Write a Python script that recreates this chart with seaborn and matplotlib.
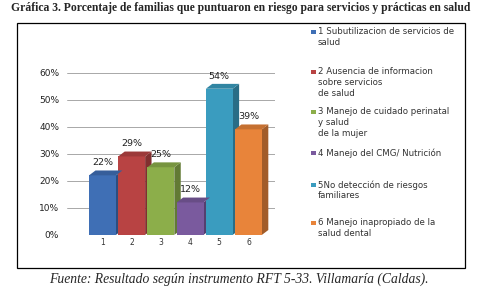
import matplotlib
matplotlib.use("Agg")
import matplotlib.pyplot as plt
import seaborn as sns
import pandas as pd
import numpy as np
from matplotlib.patches import Polygon, Rectangle
import matplotlib.colors as mcolors

categories = ["1", "2", "3", "4", "5", "6"]
values = [0.22, 0.29, 0.25, 0.12, 0.54, 0.39]
value_labels = ["22%", "29%", "25%", "12%", "54%", "39%"]
legend_labels = [
    "1 Subutilizacion de servicios de\nsalud",
    "2 Ausencia de informacion\nsobre servicios\nde salud",
    "3 Manejo de cuidado perinatal\ny salud\nde la mujer",
    "4 Manejo del CMG/ Nutrición",
    "5No detección de riesgos\nfamiliares",
    "6 Manejo inapropiado de la\nsalud dental",
]
colors = ["#3f6fb5", "#b84343", "#8cae4a", "#7a5a9e", "#3a9cbf", "#e8843a"]
yticks = [0, 0.1, 0.2, 0.3, 0.4, 0.5, 0.6]
ytick_labels = ["0%", "10%", "20%", "30%", "40%", "50%", "60%"]

title = "Gráfica 3. Porcentaje de familias que puntuaron en riesgo para servicios y prácticas en salud"
caption = "Fuente: Resultado según instrumento RFT 5-33. Villamaría (Caldas)."

sns.set_style("white")
plt.rcParams["font.family"] = ["DejaVu Sans"]

df = pd.DataFrame({"cat": categories, "val": values})

W, H = 482, 290
fig = plt.figure(figsize=(W / 100, H / 100), dpi=100)
fig.patch.set_facecolor("white")

# outer frame
fig.add_artist(Rectangle((17 / W, 1 - 268 / H), (465 - 17) / W, (268 - 23) / H,
                         transform=fig.transFigure, fill=False,
                         edgecolor="black", linewidth=0.9))

ax = fig.add_axes([0.14, 0.19, 0.43, 0.56])
sns.barplot(data=df, x="cat", y="val", hue="cat", palette=colors, legend=False,
            width=0.92, saturation=1, linewidth=0, edgecolor="none", ax=ax, zorder=3)
ax.set_ylim(0, 0.6)
ax.set_xlim(-1.2, 5.9)
ax.set_yticks(yticks)
ax.set_yticklabels(ytick_labels, fontsize=6.5, color="#222222")
ax.tick_params(axis="x", labelsize=5.5, length=0, pad=2, colors="#333333")
ax.tick_params(axis="y", length=0, pad=6)
ax.set_xlabel("")
ax.set_ylabel("")
for s in ax.spines.values():
    s.set_visible(False)
ax.yaxis.grid(True, color="#9a9a9a", linewidth=0.6, zorder=0)
ax.set_axisbelow(True)

bars = list(ax.patches)
# pseudo-3D depth faces derived from bar geometry
dx, dy = 0.22, 0.018
for p, c in zip(bars, colors):
    x0, w, h = p.get_x(), p.get_width(), p.get_height()
    x1 = x0 + w
    rgb = np.array(mcolors.to_rgb(c))
    side = Polygon([(x1, 0), (x1 + dx, dy), (x1 + dx, h + dy), (x1, h)],
                   closed=True, facecolor=rgb * 0.7, edgecolor="none", zorder=2.9)
    top = Polygon([(x0, h), (x0 + dx, h + dy), (x1 + dx, h + dy), (x1, h)],
                  closed=True, facecolor=rgb * 0.85, edgecolor="none", zorder=3.1)
    ax.add_patch(side)
    ax.add_patch(top)

for p, lab in zip(bars, value_labels):
    ax.text(p.get_x() + p.get_width() / 2, p.get_height() + 0.03, lab,
            ha="center", va="bottom", fontsize=6.8, color="#222222", zorder=5)

# legend: marker aligned with first line of each entry
legend_tops = [32, 72, 112, 153, 185, 223]
for lab, c, yy in zip(legend_labels, colors, legend_tops):
    fig.add_artist(Rectangle((311 / W, 1 - (yy + 2) / H), 4.5 / W, 4.5 / H,
                             transform=fig.transFigure, facecolor=c, edgecolor="none"))
    fig.text(318 / W, 1 - (yy - 5) / H, lab, ha="left", va="top", fontsize=6.2,
             color="#333333", linespacing=1.25)

fig.text(0.5, 0.972, title, ha="center", va="center", fontsize=8.4,
         fontweight="bold", family=["Liberation Serif"])
fig.text(0.495, 0.038, caption, ha="center", va="center", fontsize=9.8,
         style="italic", family=["Liberation Serif"])

fig.savefig("out.png", dpi=100)
